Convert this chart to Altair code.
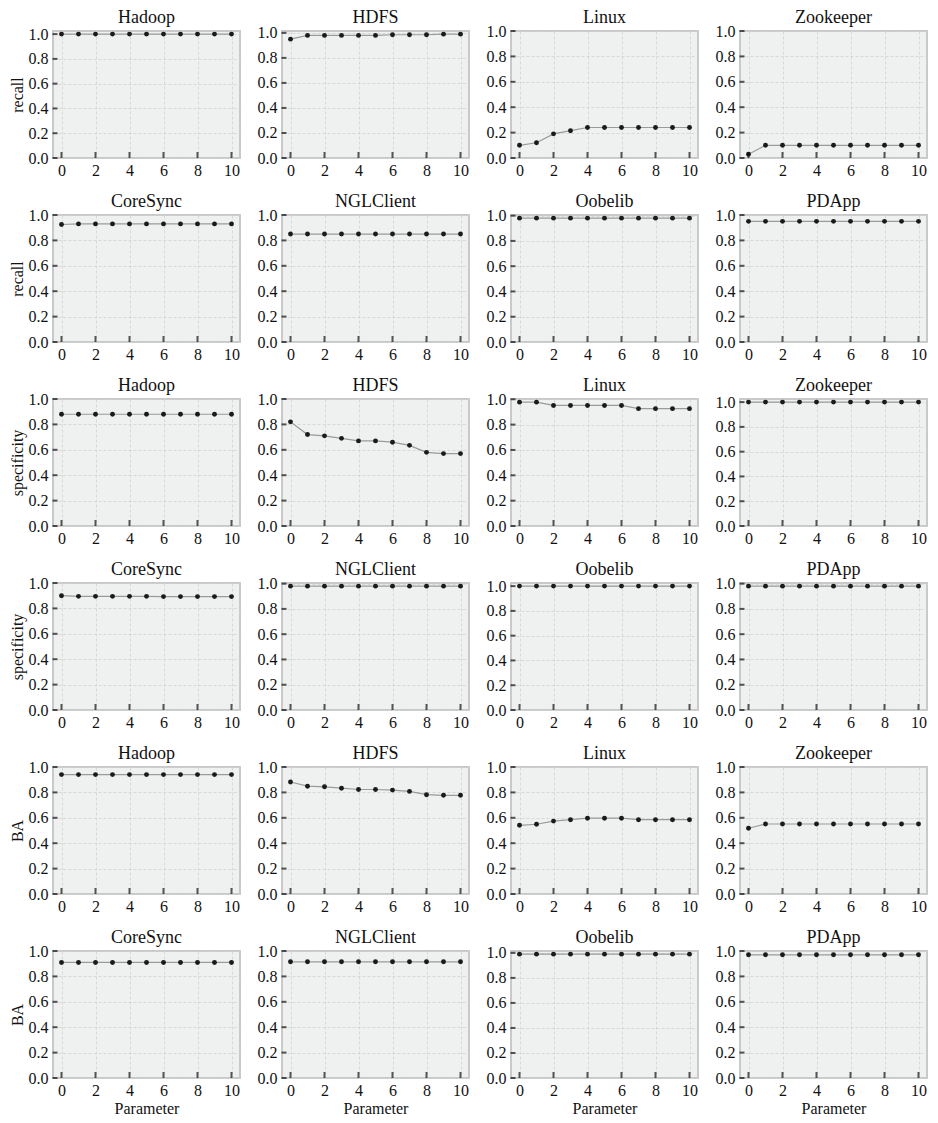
import altair as alt
import pandas as pd

# ---------------- data ----------------
param = list(range(11))
names_a = ["Hadoop", "HDFS", "Linux", "Zookeeper"]
names_b = ["CoreSync", "NGLClient", "Oobelib", "PDApp"]
x_ticks = [0, 2, 4, 6, 8, 10]
y_ticks = [0.0, 0.2, 0.4, 0.6, 0.8, 1.0]

recall_hadoop = [1.0, 1.0, 1.0, 1.0, 1.0, 1.0, 1.0, 1.0, 1.0, 1.0, 1.0]
recall_hdfs = [0.95, 0.98, 0.98, 0.98, 0.98, 0.98, 0.985, 0.985, 0.985, 0.99, 0.99]
recall_linux = [0.10, 0.12, 0.19, 0.215, 0.24, 0.24, 0.24, 0.24, 0.24, 0.24, 0.24]
recall_zookeeper = [0.03, 0.10, 0.10, 0.10, 0.10, 0.10, 0.10, 0.10, 0.10, 0.10, 0.10]
recall_coresync = [0.925, 0.93, 0.93, 0.93, 0.93, 0.93, 0.93, 0.93, 0.93, 0.93, 0.93]
recall_nglclient = [0.85, 0.85, 0.85, 0.85, 0.85, 0.85, 0.85, 0.85, 0.85, 0.85, 0.85]
recall_oobelib = [0.98, 0.98, 0.98, 0.98, 0.98, 0.98, 0.98, 0.98, 0.98, 0.98, 0.98]
recall_pdapp = [0.95, 0.95, 0.95, 0.95, 0.95, 0.95, 0.95, 0.95, 0.95, 0.95, 0.95]

spec_hadoop = [0.88, 0.88, 0.88, 0.88, 0.88, 0.88, 0.88, 0.88, 0.88, 0.88, 0.88]
spec_hdfs = [0.82, 0.72, 0.71, 0.69, 0.67, 0.67, 0.66, 0.635, 0.58, 0.57, 0.57]
spec_linux = [0.977, 0.977, 0.951, 0.951, 0.951, 0.951, 0.951, 0.926, 0.926, 0.926, 0.926]
spec_zookeeper = [1.0, 1.0, 1.0, 1.0, 1.0, 1.0, 1.0, 1.0, 1.0, 1.0, 1.0]
spec_coresync = [0.90, 0.895, 0.895, 0.895, 0.895, 0.895, 0.893, 0.893, 0.893, 0.893, 0.893]
spec_nglclient = [0.98, 0.98, 0.98, 0.98, 0.98, 0.98, 0.98, 0.98, 0.98, 0.98, 0.98]
spec_oobelib = [1.0, 1.0, 1.0, 1.0, 1.0, 1.0, 1.0, 1.0, 1.0, 1.0, 1.0]
spec_pdapp = [0.98, 0.98, 0.98, 0.98, 0.98, 0.98, 0.98, 0.98, 0.98, 0.98, 0.98]

ba_hadoop = [0.94, 0.94, 0.94, 0.94, 0.94, 0.94, 0.94, 0.94, 0.94, 0.94, 0.94]
ba_hdfs = [0.882, 0.849, 0.844, 0.833, 0.823, 0.823, 0.818, 0.808, 0.782, 0.777, 0.777]
ba_linux = [0.541, 0.549, 0.574, 0.585, 0.597, 0.597, 0.597, 0.585, 0.585, 0.585, 0.585]
ba_zookeeper = [0.518, 0.551, 0.551, 0.551, 0.551, 0.551, 0.551, 0.551, 0.551, 0.551, 0.551]
ba_coresync = [0.91, 0.91, 0.91, 0.91, 0.91, 0.91, 0.91, 0.91, 0.91, 0.91, 0.91]
ba_nglclient = [0.915, 0.915, 0.915, 0.915, 0.915, 0.915, 0.915, 0.915, 0.915, 0.915, 0.915]
ba_oobelib = [0.99, 0.99, 0.99, 0.99, 0.99, 0.99, 0.99, 0.99, 0.99, 0.99, 0.99]
ba_pdapp = [0.97, 0.97, 0.97, 0.97, 0.97, 0.97, 0.97, 0.97, 0.97, 0.97, 0.97]

rows = [
    ("recall", names_a, [recall_hadoop, recall_hdfs, recall_linux, recall_zookeeper]),
    ("recall", names_b, [recall_coresync, recall_nglclient, recall_oobelib, recall_pdapp]),
    ("specificity", names_a, [spec_hadoop, spec_hdfs, spec_linux, spec_zookeeper]),
    ("specificity", names_b, [spec_coresync, spec_nglclient, spec_oobelib, spec_pdapp]),
    ("BA", names_a, [ba_hadoop, ba_hdfs, ba_linux, ba_zookeeper]),
    ("BA", names_b, [ba_coresync, ba_nglclient, ba_oobelib, ba_pdapp]),
]

# ---------------- style ----------------
FONT = "Liberation Serif, Times New Roman, DejaVu Serif, serif"
W, H = 187, 127

xtick_df = pd.DataFrame({"Parameter": x_ticks})
ytick_df = pd.DataFrame({"value": y_ticks})


def axis_kw():
    return dict(ticks=False, domain=False, grid=True,
                labelFont=FONT, labelFontSize=16, labelColor="#111111",
                titleFont=FONT, titleFontSize=16, titleFontWeight="normal",
                titleColor="#111111",
                gridColor="#d2d2d2", gridDash=[3, 2], gridWidth=0.8)


def panel(title, metric, values, first_col, last_row):
    df = pd.DataFrame({"Parameter": param, "value": values})
    ytop = max(1.0, max(values) + 0.025)
    xscale = alt.Scale(domain=[-0.5, 10.5], nice=False, zero=False)
    yscale = alt.Scale(domain=[0, ytop], nice=False)
    xaxis = alt.Axis(values=x_ticks, format="d", labelPadding=4, titlePadding=2,
                     **axis_kw())
    yaxis = alt.Axis(values=y_ticks, format=".1f", labelPadding=5, titlePadding=3,
                     **axis_kw())
    xt = "Parameter" if last_row else None
    yt = metric if first_col else None
    xenc = alt.X("Parameter:Q", scale=xscale, axis=xaxis, title=xt)
    yenc = alt.Y("value:Q", scale=yscale, axis=yaxis, title=yt)

    base = alt.Chart(df)
    line = base.mark_line(color="#9a9a9a", strokeWidth=1.2).encode(x=xenc, y=yenc)
    pts = base.mark_circle(color="#1a1a1a", size=24, opacity=1).encode(x=xenc, y=yenc)
    xt_layer = alt.Chart(xtick_df).mark_tick(
        color="#111111", thickness=2, size=6, orient="vertical"
    ).encode(x=xenc, y=alt.value(H - 3))
    yt_layer = alt.Chart(ytick_df).mark_tick(
        color="#111111", thickness=2, size=5, orient="horizontal"
    ).encode(y=yenc, x=alt.value(2))
    title_layer = alt.Chart(pd.DataFrame({"name": [title]})).mark_text(
        font=FONT, fontSize=18, color="#111111", align="center", baseline="alphabetic"
    ).encode(text="name:N", x=alt.value(W / 2), y=alt.value(-8))
    return alt.layer(line, pts, xt_layer, yt_layer, title_layer).properties(
        width=W, height=H,
    )


panels = []
for ri, (metric, names, series) in enumerate(rows):
    for ci, (n, s) in enumerate(zip(names, series)):
        panels.append(panel(n, metric, s, ci == 0, ri == len(rows) - 1))

chart = alt.concat(
    *panels, columns=4, spacing={"row": 57, "column": 42}, bounds="flush"
).configure_view(
    fill="#eff0f0", stroke="#c9c9c9", strokeWidth=2
).properties(
    background="white", padding={"left": 0, "top": 0, "right": 0, "bottom": -2}
)

chart.save("out.html", embed_options={"renderer": "svg", "actions": False})
